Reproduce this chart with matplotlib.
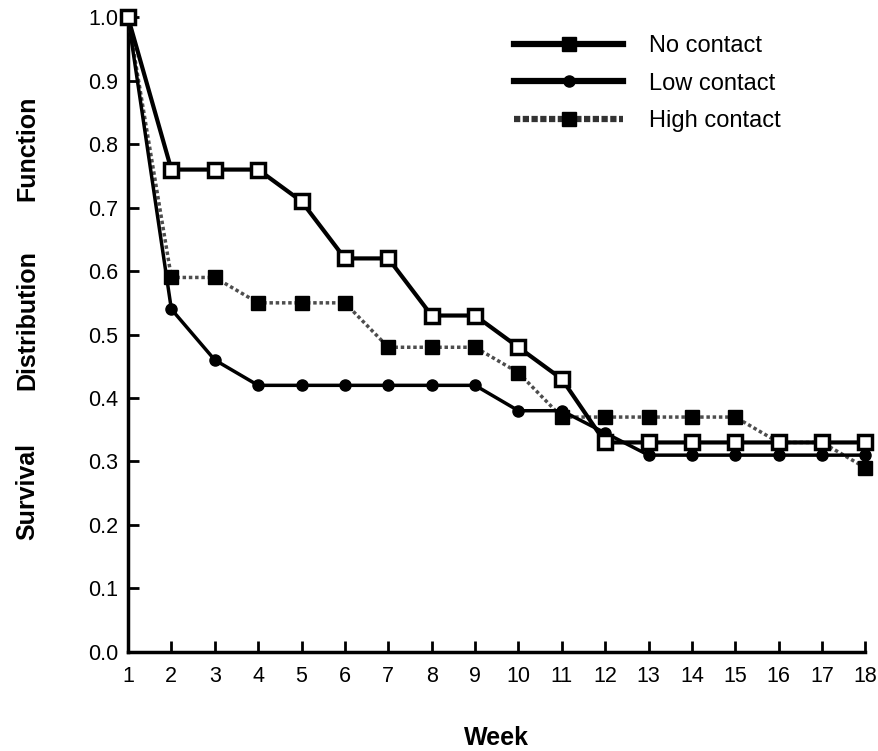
import matplotlib.pyplot as plt
from matplotlib.lines import Line2D

plt.rcParams['font.family'] = ['Liberation Sans', 'DejaVu Sans']

weeks = list(range(1, 19))
no_contact = [1.0, 0.76, 0.76, 0.76, 0.71, 0.62, 0.62, 0.53, 0.53, 0.48, 0.43,
              0.33, 0.33, 0.33, 0.33, 0.33, 0.33, 0.33]
low_contact = [1.0, 0.54, 0.46, 0.42, 0.42, 0.42, 0.42, 0.42, 0.42, 0.38, 0.38,
               0.345, 0.31, 0.31, 0.31, 0.31, 0.31, 0.31]
high_contact = [1.0, 0.59, 0.59, 0.55, 0.55, 0.55, 0.48, 0.48, 0.48, 0.44, 0.37,
                0.37, 0.37, 0.37, 0.37, 0.33, 0.33, 0.29]
labels = ["No contact", "Low contact", "High contact"]
yticks = [0.0, 0.1, 0.2, 0.3, 0.4, 0.5, 0.6, 0.7, 0.8, 0.9, 1.0]
ylabel_words = ["Survival", "Distribution", "Function"]

fig = plt.figure(figsize=(8.79, 7.51), dpi=100)
ax = fig.add_axes([0.1456, 0.132, 0.839, 0.845])

ax.plot(weeks, high_contact, color='0.3', lw=2.5, ls=(0, (1, 0.8)),
        marker='s', ms=10.5, mfc='black', mec='black', clip_on=False, zorder=3)
ax.plot(weeks, low_contact, color='black', lw=2.5,
        marker='o', ms=8, mfc='black', mec='black', clip_on=False, zorder=4)
ax.plot(weeks, no_contact, color='black', lw=3,
        marker='s', ms=9.5, mfc='white', mec='black', mew=2.5, clip_on=False, zorder=5)

ax.set_xlim(1, 18)
ax.set_ylim(0, 1.0)
ax.set_xticks(weeks)
ax.set_yticks(yticks)
ax.set_yticklabels([f"{v:.1f}" for v in yticks])
for s in ['top', 'right']:
    ax.spines[s].set_visible(False)
for s in ['left', 'bottom']:
    ax.spines[s].set_linewidth(2.5)
ax.tick_params(axis='both', direction='in', length=8, width=2, labelsize=15.5)
ax.tick_params(axis='y', pad=7)
ax.tick_params(axis='x', pad=10)

ax.set_xlabel("Week", fontsize=18, fontweight='bold', labelpad=28)

# y label: three words spread along the axis
for word, yc in zip(ylabel_words, [0.345, 0.574, 0.803]):
    fig.text(0.031, yc, word, rotation=90, fontsize=18, fontweight='bold',
             ha='center', va='center')

handles = [
    Line2D([], [], color='black', lw=4.5, marker='s', ms=10, mfc='black', mec='black'),
    Line2D([], [], color='black', lw=4.5, marker='o', ms=8, mfc='black', mec='black'),
    Line2D([], [], color='0.2', lw=4.5, ls=(0, (1, 0.4)), marker='s', ms=10, mfc='black', mec='black'),
]
ax.legend(handles, labels, loc='upper left', bbox_to_anchor=(0.495, 1.005), frameon=False,
          fontsize=17, handlelength=4.6, handletextpad=1.1, labelspacing=0.65)

fig.savefig("out.png", dpi=100)
